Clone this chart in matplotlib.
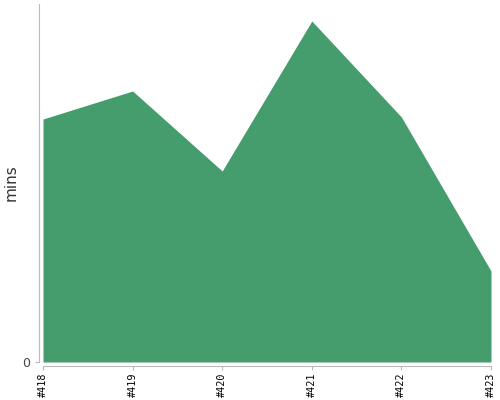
import matplotlib.pyplot as plt

# Build numbers and durations (mins)
builds = ['#418', '#419', '#420', '#421', '#422', '#423']
mins = [243, 271, 191, 341, 245, 91]

fig = plt.figure(figsize=(5, 4), dpi=100)
ax = fig.add_axes([0.086, 0.095, 0.896, 0.895])

# spine offsets first: set_position resets the ticks
for side in ['top', 'right']:
    ax.spines[side].set_visible(False)
for side in ['left', 'bottom']:
    ax.spines[side].set_position(('outward', 3))
    ax.spines[side].set_color('#bbbbbb')

x = list(range(len(builds)))
ax.fill_between(x, mins, 0, color='#459c6c', linewidth=0)

ax.set_xlim(0, len(builds) - 1)
ax.set_ylim(0, 358)
ax.tick_params(axis='y', labelsize=9, colors='#bbbbbb', labelcolor='#444444', length=3)
ax.tick_params(axis='x', colors='#bbbbbb', labelcolor='black', length=3, pad=1.5)
ax.set_xticks(x)
ax.set_xticklabels(builds, rotation=90, fontsize=7.3, family='DejaVu Sans Mono')
ax.set_yticks([0])
ax.set_ylabel('mins', fontsize=11, color='#333333')
ax.yaxis.set_label_coords(-0.054, 0.5)

fig.savefig('out.png')
